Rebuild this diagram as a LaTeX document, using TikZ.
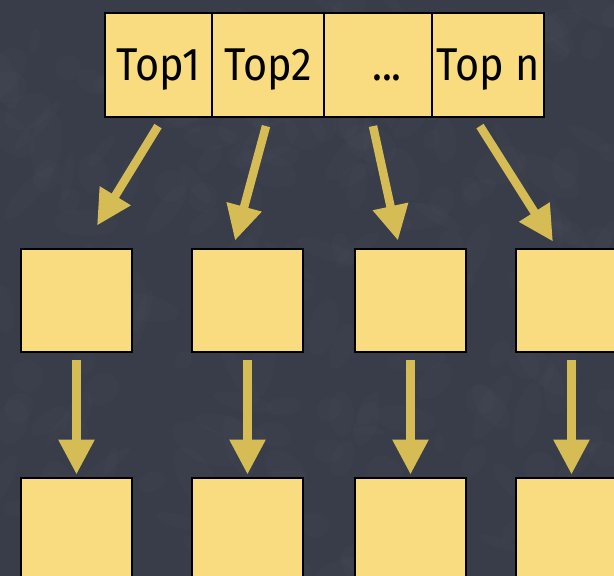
\documentclass[tikz,border=0pt]{standalone}
\usepackage{fontspec}
\setmainfont{Fira Sans}
\usetikzlibrary{arrows.meta,calc}
\definecolor{slate}{HTML}{393D4A}
\definecolor{mottle}{HTML}{6A7080}
\definecolor{boxfill}{HTML}{F9DC80}
\definecolor{arrowgold}{HTML}{D6BC55}
\tikzset{
  cell/.style={draw=black, line width=2.2pt, fill=boxfill, rectangle,
    minimum height=104pt, inner sep=0pt, text height=30pt, text depth=0pt,
    font=\fontsize{46}{46}\selectfont},
  block/.style={draw=black, line width=2.8pt, fill=boxfill, rectangle,
    minimum width=111pt, minimum height=103pt, inner sep=0pt},
  flow/.style={draw=arrowgold, line width=8.5pt,
    -{Triangle[width=34pt,length=35pt]}, arrowgold},
}
\newcommand{\slotlabel}[1]{\scalebox{0.9}[1]{#1}}
\begin{document}
\begin{tikzpicture}[x=1pt,y=-1pt]
  \useasboundingbox (0,0) rectangle (614,576);
  \fill[slate] (0,0) rectangle (614,576);
  \begin{scope}
    \clip (0,0) rectangle (614,576);
    % faint chalkboard mottling
    \pgfmathsetseed{7}
    \foreach \k in {1,...,220}{
      \pgfmathsetmacro{\px}{rnd*614}
      \pgfmathsetmacro{\py}{rnd*576}
      \pgfmathsetmacro{\rx}{8+rnd*30}
      \pgfmathsetmacro{\ry}{4+rnd*14}
      \pgfmathsetmacro{\rot}{rnd*180}
      \fill[mottle, opacity=0.05, rotate around={\rot:(\px,\py)}]
        (\px,\py) ellipse [x radius=\rx, y radius=\ry];
    }
    % header row of slots
    \node[cell, minimum width=107pt] (t1) at (158.5,65) {\slotlabel{Top1}};
    \node[cell, minimum width=112pt] (t2) at (268,65) {\slotlabel{Top2}};
    \node[cell, minimum width=108pt] (t3) at (378,65) {\hspace*{18pt}\slotlabel{...}};
    \node[cell, minimum width=112pt] (t4) at (488,65) {\slotlabel{Top n}};
    % middle row
    \node[block] (m1) at (76.5,300.5) {};
    \node[block] (m2) at (247.5,300.5) {};
    \node[block] (m3) at (410.5,300.5) {};
    \node[block] (m4) at (571.5,300.5) {};
    % bottom row
    \node[block] (b1) at (76.5,529.5) {};
    \node[block] (b2) at (247.5,529.5) {};
    \node[block] (b3) at (410.5,529.5) {};
    \node[block] (b4) at (571.5,529.5) {};
    % slot to block arrows
    \draw[flow] ($(t1.south)+(-0.5,8)$) -- ($(m1.north)+(20.5,-22)$);
    \draw[flow] ($(t2.south)+(-2,8)$) -- ($(m2.north)+(-12.5,-7)$);
    \draw[flow] ($(t3.south)+(-5,8)$) -- ($(m3.north)+(-12.5,-7)$);
    \draw[flow] ($(t4.south)+(-8,8)$) -- ($(m4.north)+(-18.5,-6)$);
    % block to block arrows
    \foreach \i in {1,2,3,4}
      \draw[flow] ($(m\i.south)+(0,7)$) -- ($(b\i.north)+(0,-2)$);
  \end{scope}
\end{tikzpicture}
\end{document}
